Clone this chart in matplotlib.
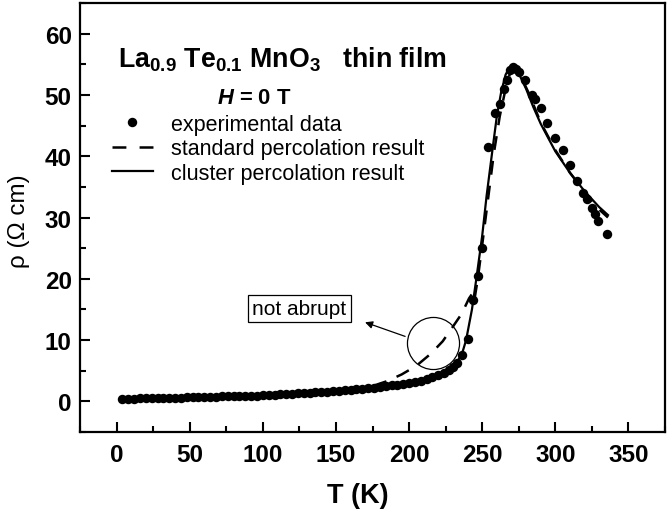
import matplotlib
matplotlib.use("Agg")
import matplotlib.pyplot as plt
from matplotlib.lines import Line2D
from matplotlib.ticker import MultipleLocator

plt.rcParams['font.family'] = ['Liberation Sans', 'DejaVu Sans']
plt.rcParams['mathtext.fontset'] = 'custom'
plt.rcParams['mathtext.rm'] = 'Liberation Sans'
plt.rcParams['mathtext.bf'] = 'Liberation Sans:bold'
plt.rcParams['mathtext.it'] = 'Liberation Sans:italic:bold'
plt.rcParams['lines.scale_dashes'] = False

# ---------------- data ----------------
T_exp = [4, 8, 12, 16, 20, 24, 28, 32, 36, 40, 44, 48, 52, 56, 60, 64, 68, 72, 76, 80,
         84, 88, 92, 96, 100, 104, 108, 112, 116, 120, 124, 128, 132, 136, 140, 144, 148,
         152, 156, 160, 164, 168, 172, 176, 180, 184, 188, 192, 196, 200, 204, 208, 212,
         216, 220, 224, 227, 230, 233, 236, 240, 244, 247, 250, 254, 259, 262, 265, 267,
         269, 271, 273, 275, 279, 284, 286, 290, 294, 300, 305, 310, 315, 319, 322, 325,
         327, 329, 335]
rho_exp = [0.45, 0.45, 0.45, 0.5, 0.5, 0.5, 0.55, 0.55, 0.55, 0.6, 0.6, 0.65, 0.65, 0.7,
           0.7, 0.75, 0.75, 0.8, 0.8, 0.85, 0.85, 0.9, 0.95, 0.95, 1.0, 1.05, 1.1, 1.15,
           1.2, 1.25, 1.3, 1.35, 1.4, 1.45, 1.5, 1.6, 1.65, 1.7, 1.8, 1.9, 1.95, 2.05,
           2.15, 2.25, 2.35, 2.45, 2.6, 2.75, 2.9, 3.05, 3.2, 3.4, 3.65, 3.9, 4.25, 4.7,
           5.1, 5.6, 6.3, 7.5, 10.2, 16.5, 20.5, 25.0, 41.5, 47.0, 48.5, 51.0, 52.5, 54.0,
           54.5, 54.3, 53.8, 52.5, 50.0, 49.3, 47.8, 45.5, 43.0, 41.0, 38.5, 36.0, 34.0,
           33.0, 31.5, 30.5, 29.4, 27.3]

T_std = [5, 50, 100, 150, 165, 175, 185, 195, 205, 215, 223, 230, 236, 241, 243, 244.5,
         247, 250, 254, 258, 262, 266, 269, 272, 276, 282, 290, 300, 310, 320, 330, 336]
rho_std = [0.5, 0.7, 1.0, 1.6, 2.0, 2.5, 3.3, 4.4, 5.8, 7.8, 9.8, 12.2, 14.3, 16.8, 17.5,
           16.3, 20.0, 25.5, 33.0, 40.5, 46.5, 51.0, 53.5, 54.2, 53.3, 50.2, 45.5, 41.0,
           37.3, 34.2, 31.3, 30.0]

T_cl = [5, 50, 100, 150, 180, 200, 215, 225, 232, 236, 239, 243, 246, 250, 253, 257,
        260, 263, 266, 269, 272, 275, 280, 285, 290, 300, 310, 320, 330, 336]
rho_cl = [0.5, 0.7, 1.0, 1.6, 2.3, 3.0, 3.9, 4.9, 6.2, 7.6, 10.0, 15.0, 20.0, 27.0, 33.5,
          41.0, 46.5, 50.5, 53.3, 54.6, 54.6, 53.5, 51.0, 48.0, 45.3, 40.8, 37.3, 34.3,
          31.7, 30.4]

xticks = [0, 50, 100, 150, 200, 250, 300, 350]
yticks = [0, 10, 20, 30, 40, 50, 60]

# ---------------- figure ----------------
W, H = 667, 510
fig = plt.figure(figsize=(W / 100, H / 100), dpi=100)
ax = fig.add_axes([80 / W, 77 / H, 585 / W, 429 / H])

dash = (10, 8)
ax.plot(T_exp, rho_exp, 'o', color='black', ms=6.8, mew=0, zorder=3)
ax.plot(T_std, rho_std, '-', color='black', lw=1.8, dashes=dash, zorder=2)
ax.plot(T_cl, rho_cl, '-', color='black', lw=1.6, zorder=2)

ax.set_xlim(-25, 375)
ax.set_ylim(-5, 65)
ax.set_xticks(xticks)
ax.set_yticks(yticks)
ax.xaxis.set_minor_locator(MultipleLocator(25))
ax.yaxis.set_minor_locator(MultipleLocator(5))
ax.tick_params(which='both', direction='in', top=False, right=False, width=1.5)
ax.tick_params(which='major', length=7.2)
ax.tick_params(which='minor', length=4.3)
ax.tick_params(axis='x', pad=8)
ax.tick_params(axis='y', pad=6)
for lab in ax.get_xticklabels() + ax.get_yticklabels():
    lab.set_fontsize(17.5)
    lab.set_fontweight('bold')
for s in ax.spines.values():
    s.set_linewidth(1.6)

# axis labels
fig.text(358 / W, 1 - 496 / H, 'T (K)', fontsize=19.5, fontweight='bold',
         ha='center', va='center')
fig.text(19 / W, 1 - 221 / H, 'ρ (Ω cm)', fontsize=17.5, rotation=90,
         ha='center', va='center')

# title texts
fig.text(118 / W, 1 - 67 / H,
         r'La$_{\mathbf{0.9}}$ Te$_{\mathbf{0.1}}$ MnO$_{\mathbf{3}}$   thin film',
         fontsize=19.3, fontweight='bold', ha='left', va='baseline')
fig.text(217 / W, 1 - 98 / H, r'$\mathit{H}$ = 0 T', fontsize=15.8,
         fontweight='bold', ha='left', va='center')

# legend
handles = [
    Line2D([], [], ls='none', marker='o', color='black', ms=6.8, mew=0),
    Line2D([], [], ls='-', color='black', lw=1.8, dashes=(10, 9.5)),
    Line2D([], [], ls='-', color='black', lw=1.6),
]
labels = ['experimental data', 'standard percolation result',
          'cluster percolation result']
lfs = 15.5
fig.legend(handles, labels, loc='upper left',
           bbox_to_anchor=(112 / W, 1 - 115 / H), frameon=False,
           fontsize=lfs, handlelength=29.5 / lfs, handletextpad=0.85,
           labelspacing=0.16, borderpad=0, borderaxespad=0, numpoints=1)

# annotation
ax.plot([216.4], [9.6], 'o', ms=37.5, mfc='none', mec='black', mew=0.9, zorder=4)
ax.annotate('', xy=(169.9, 12.9), xytext=(197.3, 10.6),
            arrowprops=dict(arrowstyle='-|>', color='black', lw=0.9,
                            mutation_scale=11, shrinkA=0, shrinkB=0))
ax.text(125, 15.2, 'not abrupt', fontsize=15, ha='center', va='center',
        bbox=dict(boxstyle='square,pad=0.2', fc='white', ec='black', lw=0.9))

fig.savefig('out.png', dpi=100)
